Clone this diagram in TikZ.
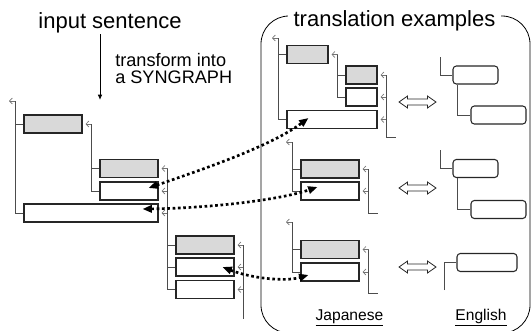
\documentclass[tikz,border=0pt]{standalone}
\usepackage{fontspec}
\setmainfont{Liberation Sans}
\usepackage{tikz}
\usetikzlibrary{positioning, calc, arrows.meta, shapes.arrows}

\begin{document}
\begin{tikzpicture}[
        x=0.75pt, y=-0.75pt,
        box/.style={rectangle, draw=black!85, line width=0.8pt, fill=white,
                    minimum height=13.5pt, inner sep=0pt},
        shade/.style={box, fill=black!15},
        ebox/.style={box, rounded corners=2.5pt},
        link/.style={draw=black!70, line width=0.6pt},
        head/.style={draw=black!55, line width=0.45pt,
                     -{Straight Barb[length=2.2pt,width=4.5pt]}},
        arrow/.style={-{Latex[length=4pt,width=3.5pt]}, line width=0.75pt},
        dotarrow/.style={line width=2pt, dash pattern=on 2pt off 2pt,
                         {Triangle[length=7pt,width=5.5pt]}-{Triangle[length=7pt,width=5.5pt]}},
        dblarrow/.style={double arrow, draw=black!85, fill=white, line width=0.6pt,
                         inner xsep=0pt, inner ysep=1.9pt, minimum height=27.75pt,
                         double arrow head extend=2.3pt, double arrow tip angle=70},
        title/.style={font=\fontsize{16.5}{18}\selectfont, inner sep=1pt},
        lang/.style={font=\fontsize{11.7}{13}\selectfont, inner sep=0pt, anchor=base}
    ]
    \useasboundingbox (0,0) rectangle (531,330);

    %% INPUT SENTENCE
    \node[title, anchor=base] (insent) at (110,28) {input sentence};
    \coordinate (root) at (100,100);
    \draw[arrow] (insent.south -| root) -- (root);
    \node[font=\fontsize{13.6}{13}\selectfont, align=left, inner sep=0pt,
          anchor=north west] (trans) at (115,53) {transform into\\a SYNGRAPH};

    %% SYNGRAPH of the input
    \node[shade, minimum width=43.5pt]  (b1) at (53,124)    {};
    \node[shade, minimum width=43.5pt]  (b2) at (129,168.5) {};
    \node[box,   minimum width=43.5pt]  (b3) at (129,191)   {};
    \node[box,   minimum width=100.5pt] (b4) at (91,213)    {};
    \node[shade, minimum width=43.5pt]  (b5) at (205,245)   {};
    \node[box,   minimum width=43.5pt]  (b6) at (205,267)   {};
    \node[box,   minimum width=43.5pt]  (b7) at (205,289.5) {};

    \coordinate (s0) at (15,101);
    \draw[head] (s0) -- ++(-6,0);
    \draw[link] (s0) |- (b4.west);
    \draw[link] (s0 |- b1.west) -- (b1.west);

    \coordinate (s1) at ($(b1.east)+(9,0)$);
    \draw[head] (s1) -- ($(b1.east)+(3,0)$);
    \draw[link] (s1) |- (b3.west);
    \draw[link] (s1 |- b2.west) -- (b2.west);

    \coordinate (s2) at ($(b2.east)+(9,0)$);
    \draw[head] (s2) -- ($(b2.east)+(3,0)$);
    \draw[head] (s2 |- b3.east) -- ($(b3.east)+(3,0)$);
    \draw[head] (s2 |- b4.east) -- ($(b4.east)+(3,0)$);
    \draw[link] (s2) |- (b7.west);
    \draw[link] (s2 |- b5.west) -- (b5.west);
    \draw[link] (s2 |- b6.west) -- (b6.west);

    \coordinate (s3) at ($(b5.east)+(9,0)$);
    \draw[head] (s3) -- ($(b5.east)+(3,0)$);
    \draw[head] (s3 |- b6.east) -- ($(b6.east)+(3,0)$);
    \draw[head] (s3 |- b7.east) -- ($(b7.east)+(3,0)$);
    \draw[link] (s3) -- ++(0,74);

    %% TRANSLATION EXAMPLES
    \draw[rounded corners=21pt, line width=0.6pt] (261,16) rectangle (530,333);
    \node[title, anchor=base, fill=white, inner xsep=4.5pt] (extitle)
          at (394.5,26) {translation examples};

    % example 1
    \node[shade, minimum width=30.75pt] (jA) at (307.5,54.5) {};
    \node[shade, minimum width=23.25pt] (jB) at (361.5,75)   {};
    \node[box,   minimum width=23.25pt] (jC) at (361.5,97)   {};
    \node[box,   minimum width=67.5pt]  (jD) at (332,119.5)  {};

    \coordinate (t0) at (278,38);
    \draw[head] (t0) -- ++(-6,0);
    \draw[link] (t0) |- (jD.west);
    \draw[link] (t0 |- jA.west) -- (jA.west);

    \coordinate (t1) at ($(jA.east)+(9,0)$);
    \draw[head] (t1) -- ($(jA.east)+(3,0)$);
    \draw[link] (t1) |- (jC.west);
    \draw[link] (t1 |- jB.west) -- (jB.west);

    \coordinate (t2) at ($(jB.east)+(9,0)$);
    \draw[head] (t2) -- ($(jB.east)+(3,0)$);
    \draw[head] (t2 |- jC.east) -- ($(jC.east)+(3,0)$);
    \draw[head] (t2 |- jD.east) -- ($(jD.east)+(3,0)$);
    \draw[link] (t2) -- ++(0,62) -- ++(9,0);

    \node[dblarrow] (eq1) at (417.5,102) {};

    \node[ebox, minimum width=33.75pt] (eA) at (475.5,75)  {};
    \node[ebox, minimum width=41.25pt] (eB) at (498.5,115) {};
    \coordinate (k1) at (440,57);
    \draw[link] (k1) |- (eA.west);
    \draw[link] ($(eA.south west)+(5,0)$) |- (eB.west);

    % example 2
    \node[shade, minimum width=43.5pt] (jE) at (330,169) {};
    \node[box,   minimum width=43.5pt] (jF) at (330,191) {};

    \coordinate (u0) at (292,142);
    \draw[head] (u0) -- ++(-6,0);
    \draw[link] (u0) |- (jF.west);
    \draw[link] (u0 |- jE.west) -- (jE.west);

    \coordinate (u1) at ($(jE.east)+(9,0)$);
    \draw[head] (u1) -- ($(jE.east)+(3,0)$);
    \draw[head] (u1 |- jF.east) -- ($(jF.east)+(3,0)$);
    \draw[link] (u1) -- ++(0,44) -- ++(9,0);

    \node[dblarrow] (eq2) at (417.5,188) {};

    \node[ebox, minimum width=33.75pt] (eC) at (475.5,168.5) {};
    \node[ebox, minimum width=41.25pt] (eD) at (498.5,209.5) {};
    \coordinate (k2) at (440,150);
    \draw[link] (k2) |- (eC.west);
    \draw[link] ($(eC.south west)+(5,0)$) |- (eD.west);

    % example 3
    \node[shade, minimum width=43.5pt] (jG) at (330,249.5) {};
    \node[box,   minimum width=43.5pt] (jH) at (330,272)   {};

    \coordinate (v0) at (292,222);
    \draw[head] (v0) -- ++(-6,0);
    \draw[link] (v0) |- (jH.west);
    \draw[link] (v0 |- jG.west) -- (jG.west);

    \coordinate (v1) at ($(jG.east)+(9,0)$);
    \draw[head] (v1) -- ($(jG.east)+(3,0)$);
    \draw[head] (v1 |- jH.east) -- ($(jH.east)+(3,0)$);
    \draw[link] (v1) -- ++(0,44) -- ++(9,0);

    \node[dblarrow] (eq3) at (417.5,267) {};

    \node[ebox, minimum width=45pt] (eE) at (487,262.5) {};
    \coordinate (k3) at (444,290);
    \draw[link] (k3) |- (eE.west);

    \node[lang] (jptext) at (349.5,320) {\underline{Japanese}};
    \node[lang] (entext) at (481,320)   {\underline{English}};

    %% MATCHES
    \draw[dotarrow] ($(b3.east)+(-10,-3)$) .. controls +(52,-18) and +(-39,29)
                    .. ($(jD.west)+(22,-1.5)$);
    \draw[dotarrow] ($(b4.east)+(-16,-4)$) .. controls +(68,-1) and +(-38,13)
                    .. ($(jF.west)+(17,-4)$);
    \draw[dotarrow] ($(b6.east)+(-12,0)$) .. controls +(28,11) and +(-24,7)
                    .. ($(jH.west)+(8,3)$);

\end{tikzpicture}
\end{document}
